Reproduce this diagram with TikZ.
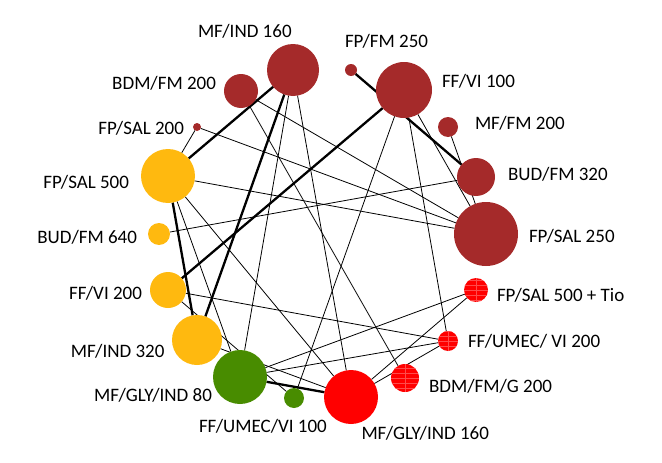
\documentclass[tikz,border=0pt]{standalone}
\usepackage{fontspec}
\setmainfont{Carlito}
\usetikzlibrary{backgrounds}
\definecolor{cbrown}{RGB}{165,42,42}
\definecolor{corange}{RGB}{255,185,15}
\definecolor{cgreen}{RGB}{72,140,0}
\definecolor{cred}{RGB}{255,0,0}
\definecolor{cstripe}{RGB}{255,75,75}
\tikzset{
  trt/.style={circle, inner sep=0pt, outer sep=0pt, draw=none, minimum size=#1},
  striped/.style={path picture={
      \foreach \k in {-2,...,2}
        \draw[cstripe, line width=0.3pt]
          ([yshift=\k*5pt]path picture bounding box.west) --
          ([yshift=\k*5pt]path picture bounding box.east);
      \draw[cstripe, line width=0.3pt]
          (path picture bounding box.north) -- (path picture bounding box.south);
  }},
  lbl/.style={inner sep=0pt, outer sep=0pt, font=\fontsize{19}{21}\selectfont},
  thin edge/.style={draw=black, line width=0.8pt},
  thick edge/.style={draw=black, line width=2.3pt},
}
\begin{document}
\begin{tikzpicture}[x=1pt,y=-1pt]
\useasboundingbox (0,0) rectangle (662,463);
% treatments
\node[trt=52pt, fill=cbrown] (ind160) at (293,70) {};
\node[trt=34pt, fill=cbrown] (bdm200) at (241,91) {};
\node[trt=8pt, fill=cbrown] (sal200) at (197,127) {};
\node[trt=12pt, fill=cbrown] (fm250) at (351,70) {};
\node[trt=56pt, fill=cbrown] (vi100) at (404,90) {};
\node[trt=20pt, fill=cbrown] (mffm200) at (448,127) {};
\node[trt=38pt, fill=cbrown] (bud320) at (476,177) {};
\node[trt=64pt, fill=cbrown] (sal250) at (486,234) {};
\node[trt=54pt, fill=corange] (sal500) at (168,176) {};
\node[trt=22pt, fill=corange] (bud640) at (159,234) {};
\node[trt=36pt, fill=corange] (vi200) at (168,290) {};
\node[trt=50pt, fill=corange] (ind320) at (197,340) {};
\node[trt=54pt, fill=cgreen] (gly80) at (240,377) {};
\node[trt=20pt, fill=cgreen] (umec100) at (294,398) {};
\node[trt=54pt, fill=cred] (gly160) at (351,397) {};
\node[trt=28pt, fill=cred, striped] (bdmg200) at (405,378) {};
\node[trt=20pt, fill=cred, striped] (umec200) at (448,341) {};
\node[trt=24pt, fill=cred, striped] (tio) at (476,290) {};
% labels
\node[lbl, anchor=base west] (l-ind160) at (198,37) {MF/IND 160};
\node[lbl, anchor=base east] (l-bdm200) at (216,89) {BDM/FM 200};
\node[lbl, anchor=base east] (l-sal200) at (184,134.5) {FP/SAL 200};
\node[lbl, anchor=base west] (l-fm250) at (345,47.5) {FP/FM 250};
\node[lbl, anchor=base west] (l-vi100) at (442,87) {FF/VI 100};
\node[lbl, anchor=base west] (l-mffm200) at (475,129) {MF/FM 200};
\node[lbl, anchor=base west] (l-bud320) at (508,180) {BUD/FM 320};
\node[lbl, anchor=base west] (l-sal250) at (529,242.5) {FP/SAL 250};
\node[lbl, anchor=base east] (l-sal500) at (129,188.5) {FP/SAL 500};
\node[lbl, anchor=base east] (l-bud640) at (137,243) {BUD/FM 640};
\node[lbl, anchor=base east] (l-vi200) at (142,299) {FF/VI 200};
\node[lbl, anchor=base east] (l-ind320) at (164.5,357.5) {MF/IND 320};
\node[lbl, anchor=base east] (l-gly80) at (212,401) {MF/GLY/IND 80};
\node[lbl, anchor=base west] (l-umec100) at (199,432) {FF/UMEC/VI 100};
\node[lbl, anchor=base west] (l-gly160) at (361.5,439) {MF/GLY/IND 160};
\node[lbl, anchor=base west] (l-bdmg200) at (429,392.5) {BDM/FM/G 200};
\node[lbl, anchor=base west] (l-umec200) at (468,347.5) {FF/UMEC/ VI 200};
\node[lbl, anchor=base west] (l-tio) at (497,301) {FP/SAL 500 + Tio};
% comparisons
\begin{pgfonlayer}{background}
\draw[thick edge] (sal500) -- (ind160);
\draw[thick edge] (sal500) -- (ind320);
\draw[thick edge] (ind320) -- (ind160);
\draw[thick edge] (fm250) -- (bud320);
\draw[thick edge] (vi200) -- (vi100);
\draw[thick edge] (gly80) -- (gly160);
\draw[thin edge] (sal200) -- (sal500);
\draw[thin edge] (sal200) -- (sal250);
\draw[thin edge] (bdm200) -- (sal250);
\draw[thin edge] (bdm200) -- (bdmg200);
\draw[thin edge] (sal500) -- (sal250);
\draw[thin edge] (sal500) -- (gly80);
\draw[thin edge] (sal500) -- (gly160);
\draw[thin edge] (bud640) -- (bud320);
\draw[thin edge] (vi200) -- (umec200);
\draw[thin edge] (vi200) -- (umec100);
\draw[thin edge] (ind160) -- (gly80);
\draw[thin edge] (ind160) -- (gly160);
\draw[thin edge] (vi100) -- (umec100);
\draw[thin edge] (vi100) -- (umec200);
\draw[thin edge] (vi100) -- (sal250);
\draw[thin edge] (mffm200) -- (sal250);
\draw[thin edge] (gly80) -- (tio);
\draw[thin edge] (gly80) -- (umec200);
\draw[thin edge] (umec200) -- (gly160);
\draw[thin edge] (tio) -- (gly160);
\draw[thin edge] (ind320) -- (gly160);
\end{pgfonlayer}
\end{tikzpicture}
\end{document}
